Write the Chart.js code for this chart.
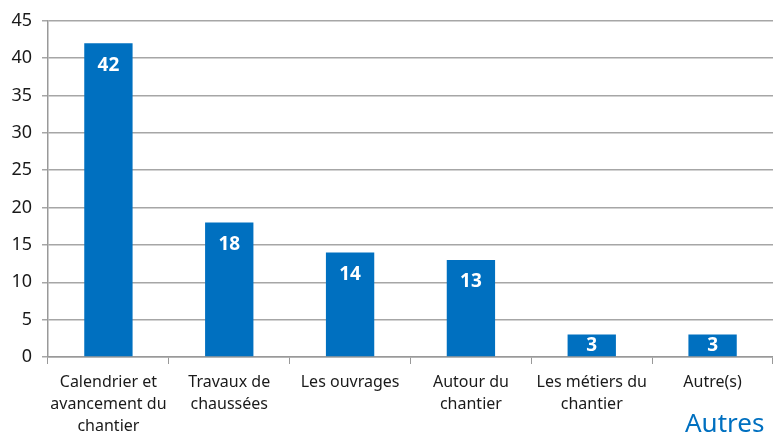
<!DOCTYPE html>
<html>
<head>
<meta charset="utf-8">
<script src="https://cdn.jsdelivr.net/npm/chart.js@4/dist/chart.umd.min.js"></script>
<style>
  body { margin: 0; background: #fff; }
  #wrap { position: relative; width: 773px; height: 437px; }
  #autres {
    position: absolute; left: 685px; top: 404px;
    font-family: "Noto Sans", sans-serif; font-size: 26px; color: #0070c0;
  }
</style>
</head>
<body>
<div id="wrap">
  <canvas id="myChart" width="773" height="437"></canvas>
  <div id="autres">Autres</div>
</div>
<script>
'use strict';

// chart data
var categories = [
  ['Calendrier et', 'avancement du', 'chantier'],
  ['Travaux de', 'chaussées'],
  ['Les ouvrages'],
  ['Autour du', 'chantier'],
  ['Les métiers du', 'chantier'],
  ['Autre(s)']
];
var counts = [42, 18, 14, 13, 3, 3];
var yTicks = [0, 5, 10, 15, 20, 25, 30, 35, 40, 45];

// white numbers inside the top of each bar (centred when the bar is short)
var barLabels = {
  id: 'barLabels',
  afterDatasetsDraw: function (chart) {
    var ctx = chart.ctx;
    var meta = chart.getDatasetMeta(0);
    ctx.save();
    ctx.fillStyle = '#ffffff';
    ctx.font = 'bold 19px "Noto Sans", sans-serif';
    ctx.textAlign = 'center';
    ctx.textBaseline = 'middle';
    for (var i = 0; i < meta.data.length; i++) {
      var bar = meta.data[i];
      var y = Math.min(bar.y + 22, (bar.y + bar.base) / 2);
      ctx.fillText(String(counts[i]), bar.x, y);
    }
    ctx.restore();
  }
};

var ctx = document.getElementById('myChart').getContext('2d');
var chart = new Chart(ctx, {
  type: 'bar',
  data: {
    labels: categories,
    datasets: [{
      data: counts,
      backgroundColor: '#0070c0',
      borderWidth: 0,
      categoryPercentage: 1,
      barPercentage: 0.4
    }]
  },
  options: {
    responsive: false,
    animation: false,
    layout: { padding: { top: 16, right: 0, left: 1, bottom: 0 } },
    plugins: {
      legend: { display: false },
      tooltip: { enabled: false }
    },
    scales: {
      x: {
        afterFit: function (scale) { scale.height = 80; },
        grid: {
          offset: true,
          drawOnChartArea: false,
          drawTicks: true,
          tickLength: 7,
          color: '#999999'
        },
        border: { color: '#999999', width: 1.5 },
        ticks: {
          color: '#1a1a1a',
          font: { family: '"Noto Sans", sans-serif', size: 16, lineHeight: 1.375 },
          padding: 7,
          maxRotation: 0,
          autoSkip: false
        }
      },
      y: {
        min: 0,
        max: 45,
        afterFit: function (scale) { scale.width = 47; },
        afterBuildTicks: function (scale) {
          scale.ticks = yTicks.map(function (v) { return { value: v }; });
        },
        grid: { color: '#a6a6a6', lineWidth: 1.5, tickLength: 6 },
        border: { color: '#999999', width: 1.5 },
        ticks: {
          color: '#1a1a1a',
          font: { family: '"Noto Sans", sans-serif', size: 18 },
          padding: 10
        }
      }
    }
  },
  plugins: [barLabels]
});
</script>
</body>
</html>
